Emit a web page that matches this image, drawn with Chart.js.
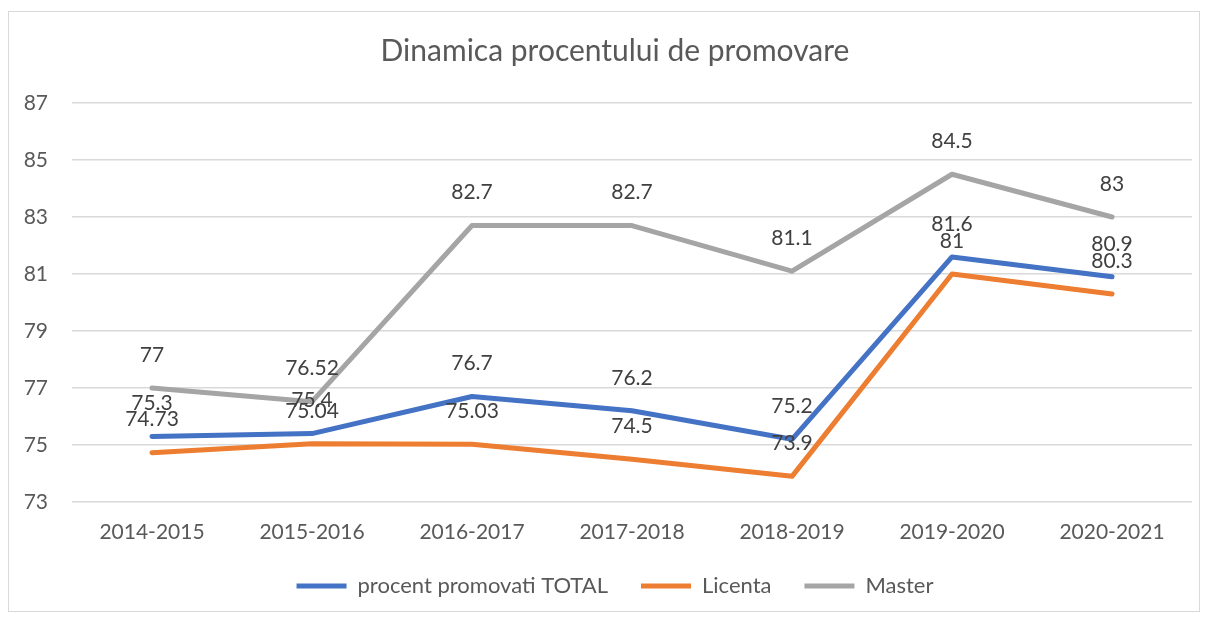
<!DOCTYPE html>
<html>
<head>
<meta charset="utf-8">
<script src="https://cdn.jsdelivr.net/npm/chart.js@4"></script>
<style>
  html, body { margin: 0; padding: 0; background: #fff; }
  #wrap { width: 1208px; height: 617px; }
</style>
</head>
<body>
<div id="wrap"><canvas id="promChart" width="1208" height="617"></canvas></div>
<script>
// Date grafic
const anii = ['2014-2015', '2015-2016', '2016-2017', '2017-2018', '2018-2019', '2019-2020', '2020-2021'];
const procentTotal = [75.3, 75.4, 76.7, 76.2, 75.2, 81.6, 80.9];
const procentLicenta = [74.73, 75.04, 75.03, 74.5, 73.9, 81, 80.3];
const procentMaster = [77, 76.52, 82.7, 82.7, 81.1, 84.5, 83];
const yTicks = [73, 75, 77, 79, 81, 83, 85, 87];

const FONT = 'Lato, "Noto Sans", sans-serif';

// Chenar si etichete de valori
const chenarPlugin = {
    id: 'chenar',
    beforeDraw(chart) {
        const ctx = chart.ctx;
        ctx.save();
        ctx.fillStyle = '#fff';
        ctx.fillRect(0, 0, chart.width, chart.height);
        ctx.strokeStyle = '#d9d9d9';
        ctx.lineWidth = 1;
        ctx.strokeRect(8.5, 11.5, 1191, 600);
        ctx.restore();
    }
};

const eticheteValori = {
    id: 'eticheteValori',
    afterDatasetsDraw(chart) {
        const ctx = chart.ctx;
        ctx.save();
        ctx.font = '21px ' + FONT;
        ctx.fillStyle = '#404040';
        ctx.textAlign = 'center';
        ctx.textBaseline = 'middle';
        chart.data.datasets.forEach((ds, i) => {
            const meta = chart.getDatasetMeta(i);
            meta.data.forEach((pt, j) => {
                ctx.fillText(String(ds.data[j]), pt.x, pt.y - 33);
            });
        });
        ctx.restore();
    }
};

function serie(label, data, color) {
    return {
        label: label,
        data: data,
        borderColor: color,
        backgroundColor: color,
        borderWidth: 5,
        borderCapStyle: 'round',
        borderJoinStyle: 'round',
        pointRadius: 0,
        pointHoverRadius: 0,
        tension: 0
    };
}

const ctx = document.getElementById('promChart').getContext('2d');
new Chart(ctx, {
    type: 'line',
    data: {
        labels: anii,
        datasets: [
            serie('procent promovati TOTAL', procentTotal, '#4472C4'),
            serie('Licenta', procentLicenta, '#ED7D31'),
            serie('Master', procentMaster, '#A5A5A5')
        ]
    },
    options: {
        responsive: false,
        animation: false,
        layout: { padding: { left: 24, right: 2, top: 0, bottom: 10 } },
        plugins: {
            title: {
                display: true,
                text: 'Dinamica procentului de promovare',
                color: '#595959',
                font: { family: FONT, size: 30, weight: 'normal' },
                padding: { top: 33, bottom: 34 }
            },
            legend: {
                position: 'bottom',
                labels: {
                    color: '#595959',
                    font: { family: FONT, size: 22 },
                    usePointStyle: true,
                    pointStyle: 'line',
                    pointStyleWidth: 50,
                    boxHeight: 22,
                    padding: 33
                }
            },
            tooltip: { enabled: false }
        },
        scales: {
            x: {
                offset: true,
                grid: { display: false, drawTicks: false, offset: true },
                border: { display: false },
                ticks: {
                    color: '#595959',
                    font: { family: FONT, size: 21 },
                    padding: 18,
                    maxRotation: 0
                },
                afterFit(scale) { scale.height = 40; }
            },
            y: {
                min: 73,
                max: 87,
                afterBuildTicks(scale) {
                    scale.ticks = yTicks.map(v => ({ value: v }));
                },
                grid: { color: '#d9d9d9', lineWidth: 1.5, drawTicks: false },
                border: { display: false },
                ticks: {
                    color: '#595959',
                    font: { family: FONT, size: 21 },
                    padding: 24
                },
                afterFit(scale) { scale.width = 48; }
            },
            // spatiu gol in dreapta (ca titlul si legenda sa fie centrate ca in Excel)
            spatiuDreapta: {
                position: 'right',
                min: 73,
                max: 87,
                grid: { display: false, drawTicks: false },
                border: { display: false },
                ticks: { display: false },
                afterFit(scale) { scale.width = 14; }
            }
        }
    },
    plugins: [chenarPlugin, eticheteValori]
});
</script>
</body>
</html>
